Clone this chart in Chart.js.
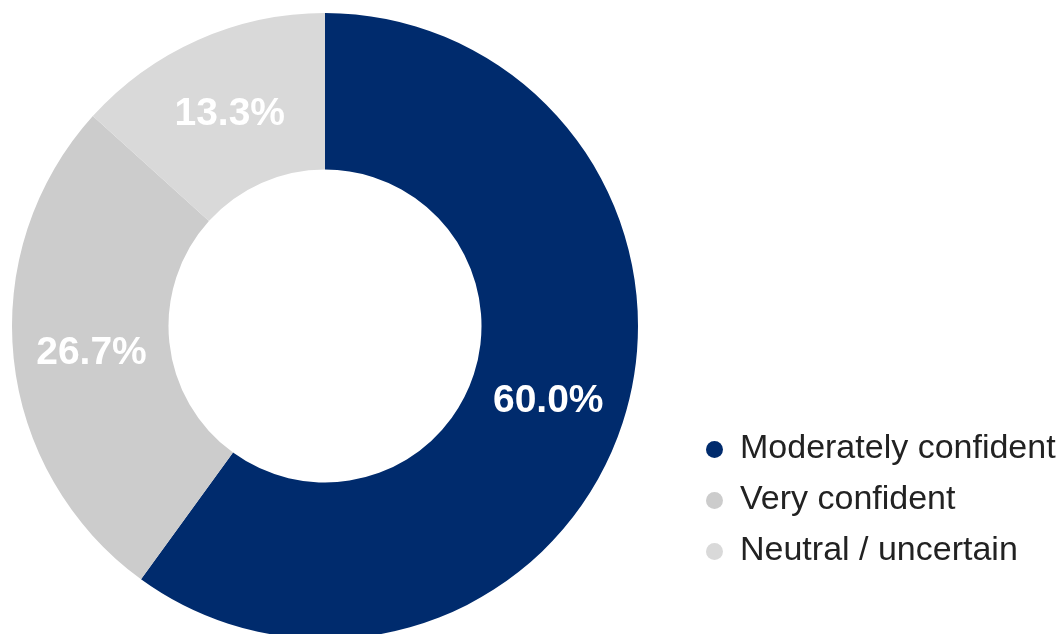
<!DOCTYPE html>
<html>
<head>
<meta charset="utf-8">
<script src="https://cdn.jsdelivr.net/npm/chart.js@4"></script>
<style>
  body { margin: 0; background: #fff; }
  #wrap { position: relative; width: 1060px; height: 634px; overflow: hidden; }
  #box { position: absolute; left: 0; top: 0; width: 1060px; height: 660px; }
  #legend { position: absolute; left: 706px; top: 426px; margin: 0; padding: 0; list-style: none;
            font-family: "Liberation Sans", Arial, sans-serif; font-size: 34px; color: #222; }
  #legend li { height: 51px; line-height: 40px; white-space: nowrap; }
  #legend span { display: inline-block; width: 17px; height: 17px; border-radius: 50%;
                 margin-right: 17px; vertical-align: 0px; }
</style>
</head>
<body>
<div id="wrap">
  <div id="box"><canvas id="donaChart"></canvas></div>
  <ul id="legend"></ul>
</div>
<script>
// datos del gráfico
const categorias = ["Moderately confident", "Very confident", "Neutral / uncertain"];
const valores = [60.0, 26.7, 13.3];
const colores = ["#002b6d", "#cccccc", "#d9d9d9"];

// plugin para escribir el porcentaje en el centro de cada sector
const etiquetasPlugin = {
    id: "etiquetas",
    afterDatasetsDraw(chart) {
        const ctx = chart.ctx;
        const meta = chart.getDatasetMeta(0);
        ctx.save();
        ctx.font = "bold 39px 'Liberation Sans', Arial, sans-serif";
        ctx.fillStyle = "#ffffff";
        ctx.textAlign = "center";
        ctx.textBaseline = "middle";
        meta.data.forEach((arc, i) => {
            const p = arc.getCenterPoint();
            ctx.fillText(valores[i].toFixed(1) + "%", p.x, p.y + 3);
        });
        ctx.restore();
    }
};

const ctx = document.getElementById("donaChart").getContext("2d");
const donaChart = new Chart(ctx, {
    type: "doughnut",
    data: {
        labels: categorias,
        datasets: [{
            data: valores,
            backgroundColor: colores,
            borderWidth: 0
        }]
    },
    options: {
        responsive: true,
        maintainAspectRatio: false,
        animation: false,
        cutout: "50%",
        layout: { padding: { left: 12, top: 13, right: 422, bottom: 21 } },
        plugins: {
            legend: { display: false },
            tooltip: { enabled: false }
        }
    },
    plugins: [etiquetasPlugin]
});

// leyenda en HTML
const legend = document.getElementById("legend");
categorias.forEach((c, i) => {
    const li = document.createElement("li");
    li.innerHTML = '<span style="background:' + colores[i] + '"></span>' + c;
    legend.appendChild(li);
});
</script>
</body>
</html>
